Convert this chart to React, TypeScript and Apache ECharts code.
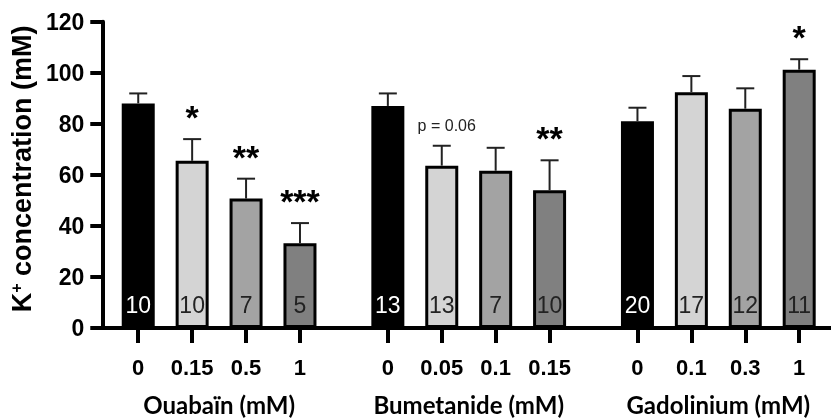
import React, { useEffect, useRef } from "react";
import * as echarts from "echarts";

const groupNames = ["Ouabaïn (mM)", "Bumetanide (mM)", "Gadolinium (mM)"];
const doseLabels = [
  ["0", "0.15", "0.5", "1"],
  ["0", "0.05", "0.1", "0.15"],
  ["0", "0.1", "0.3", "1"],
];
const means = [
  [88, 65.5, 50.7, 33.2],
  [87, 63.6, 61.6, 54],
  [81, 92.4, 85.9, 101.2],
];
const sems = [
  [3.9, 8.5, 7.8, 7.9],
  [4.9, 7.8, 9.0, 11.7],
  [5.3, 6.3, 8.0, 4.1],
];
const nValues = [
  [10, 10, 7, 5],
  [13, 13, 7, 10],
  [20, 17, 12, 11],
];
const marks = [
  ["", "*", "**", "***"],
  ["", "p = 0.06", "", "**"],
  ["", "", "", "*"],
];
const yMin = 0;
const yMax = 120;
const yInterval = 20;

const barColors = ["#000000", "#d4d4d4", "#a3a3a3", "#808080"];
const nColors = ["#ffffff", "#222222", "#222222", "#222222"];

const GROUP_STEP = 4.63;
const X_MIN = -0.667;
const X_MAX = 12.85;
const SANS = "'Liberation Sans', Arial, sans-serif";

export default function App() {
  const ref = useRef<HTMLDivElement>(null);
  useEffect(() => {
    if (!ref.current) return;
    const chart = echarts.init(ref.current, null, { renderer: "svg" });

    const positions: number[] = [];
    const labels: string[] = [];
    const barData: any[] = [];
    const errData: number[][] = [];
    const markList: string[] = [];
    groupNames.forEach((_, g) => {
      doseLabels[g].forEach((d, i) => {
        const pos = g * GROUP_STEP + i;
        positions.push(pos);
        labels.push(d);
        barData.push({
          value: [pos, means[g][i]],
          itemStyle: {
            color: barColors[i],
            borderColor: "#000",
            borderWidth: 3,
          },
          label: {
            show: true,
            position: "insideBottom",
            distance: 12,
            formatter: String(nValues[g][i]),
            color: nColors[i],
            fontSize: 23,
            fontFamily: SANS,
          },
        });
        errData.push([pos, means[g][i], means[g][i] + sems[g][i]]);
        markList.push(marks[g][i]);
      });
    });
    const groupCenters = groupNames.map((_, g) => g * GROUP_STEP + 1.5);

    const findIdx = (arr: number[], v: number) =>
      arr.findIndex((p) => Math.abs(p - v) < 1e-6);

    const option: any = {
      animation: false,
      grid: { left: 101, right: 0, top: 21.7, bottom: 90 },
      xAxis: [
        {
          type: "value",
          min: X_MIN,
          max: X_MAX,
          splitLine: { show: false },
          axisLine: { show: true, onZero: false, lineStyle: { color: "#000", width: 4 } },
          axisTick: {
            show: true,
            customValues: positions,
            length: 15,
            lineStyle: { color: "#000", width: 4 },
          },
          axisLabel: {
            customValues: positions,
            margin: 28,
            formatter: (v: number) => {
              const k = findIdx(positions, v);
              return k >= 0 ? labels[k] : "";
            },
            color: "#000",
            fontWeight: "bold",
            fontSize: 22,
            fontFamily: SANS,
          },
        },
        {
          type: "value",
          min: X_MIN,
          max: X_MAX,
          position: "bottom",
          splitLine: { show: false },
          axisLine: { show: false, onZero: false },
          axisTick: { show: false },
          axisLabel: {
            customValues: groupCenters,
            margin: 64,
            formatter: (v: number) => {
              const k = findIdx(groupCenters, v);
              return k >= 0 ? groupNames[k] : "";
            },
            color: "#000",
            fontWeight: "bold",
            fontSize: 24,
            fontFamily: "Lato, 'Open Sans', sans-serif",
          },
        },
      ],
      yAxis: {
        type: "value",
        min: yMin,
        max: yMax,
        interval: yInterval,
        splitLine: { show: false },
        axisLine: { show: true, onZero: false, lineStyle: { color: "#000", width: 4 } },
        axisTick: { show: true, length: 12, lineStyle: { color: "#000", width: 4 } },
        axisLabel: {
          margin: 18,
          color: "#000",
          fontWeight: "bold",
          fontSize: 23,
          fontFamily: SANS,
        },
        name: "{a|K}{sup|+}{a| concentration (mM)}",
        nameLocation: "middle",
        nameRotate: 90,
        nameGap: 64,
        nameTextStyle: {
          padding: [0, 0, 0, 12],
          rich: {
            a: {
              fontSize: 27,
              fontWeight: "bold",
              color: "#000",
              fontFamily: SANS,
            },
            sup: {
              fontSize: 16,
              fontWeight: "bold",
              color: "#000",
              verticalAlign: "top",
              padding: [0, 0, 10, 0],
              fontFamily: SANS,
            },
          },
        },
      },
      series: [
        {
          type: "bar",
          xAxisIndex: 0,
          barWidth: 33,
          data: barData,
          z: 2,
        },
        {
          type: "custom",
          xAxisIndex: 0,
          z: 3,
          data: errData,
          renderItem: (params: any, api: any) => {
            const x = api.value(0);
            const p0 = api.coord([x, api.value(1)]);
            const p1 = api.coord([x, api.value(2)]);
            const children: any[] = [
              {
                type: "line",
                shape: { x1: p0[0], y1: p0[1], x2: p1[0], y2: p1[1] },
                style: { stroke: "#222", lineWidth: 2 },
              },
              {
                type: "line",
                shape: { x1: p1[0] - 9, y1: p1[1], x2: p1[0] + 9, y2: p1[1] },
                style: { stroke: "#222", lineWidth: 2 },
              },
            ];
            const m = markList[params.dataIndex];
            if (m) {
              const isP = m.startsWith("p");
              children.push({
                type: "text",
                x: p1[0] + (isP ? 5 : 0),
                y: p1[1] - (isP ? 20 : 22),
                style: {
                  text: m,
                  align: "center",
                  verticalAlign: "middle",
                  fill: isP ? "#222" : "#000",
                  fontSize: isP ? 16 : 34,
                  fontWeight: isP ? "normal" : "bold",
                  fontFamily: SANS,
                },
              });
            }
            return { type: "group", children };
          },
        },
      ],
    };
    chart.setOption(option);
    return () => chart.dispose();
  }, []);
  return (
    <div
      ref={ref}
      style={{ position: "fixed", left: 0, top: 0, width: 831, height: 418 }}
    />
  );
}
